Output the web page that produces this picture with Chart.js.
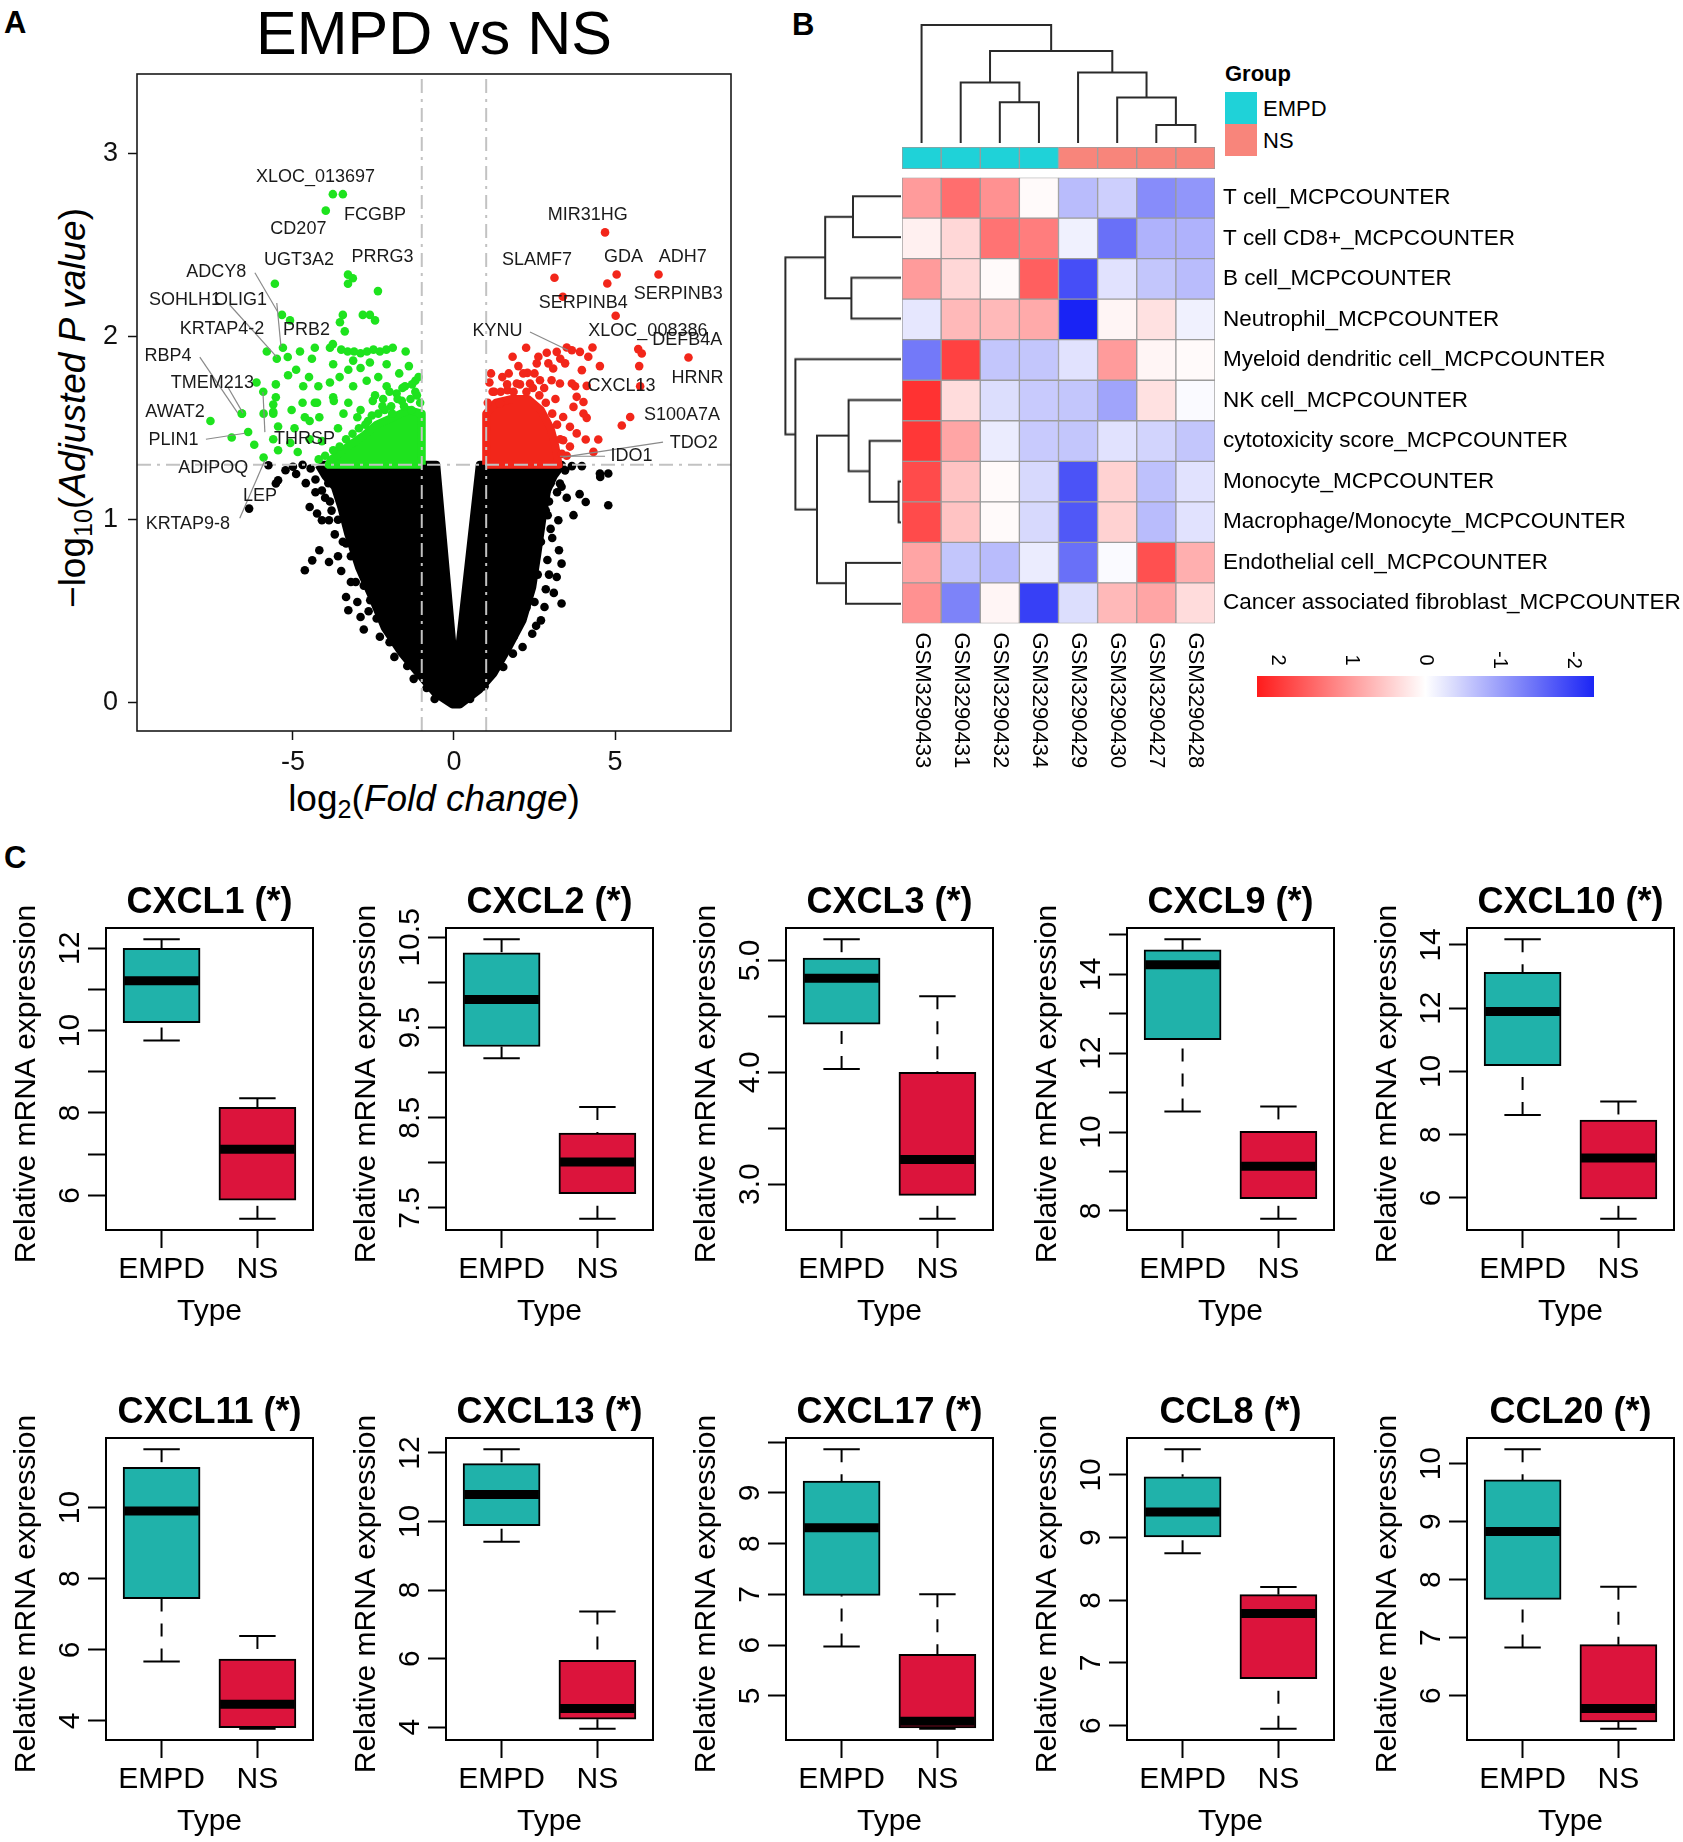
<!DOCTYPE html>
<html>
<head>
<meta charset="utf-8">
<title>EMPD vs NS</title>
<script src="https://cdn.jsdelivr.net/npm/chart.js@4.4.1/dist/chart.umd.min.js"></script>
<style>
  html, body { margin: 0; padding: 0; background: #fff; }
  #page { position: relative; width: 1683px; height: 1842px; overflow: hidden; background: #fff;
          font-family: "Liberation Sans", Arial, Helvetica, sans-serif; color: #000; }
  #page canvas { position: absolute; }
  .txt { position: absolute; white-space: nowrap; line-height: 1; }
  .txt sub { font-size: 0.68em; vertical-align: -0.28em; line-height: 0; }
  .swatch { position: absolute; width: 32px; height: 32px; }
</style>
</head>
<body>
<div id="page"></div>
<script>
// ---------------- A: volcano ----------------
const fcCut = 1;
const padjCut = 1.301;
const xMinA = -9.84, xMaxA = 8.6, yMinA = -0.155, yMaxA = 3.437;

// outline of the dense non-significant cloud (the V)
const blackCloud = [[-4.2,1.30],[-4.0,1.24],[-3.7,1.18],[-3.5,1.07],[-3.28,0.92],[-2.95,0.74],[-2.55,0.58],
  [-2.15,0.41],[-1.62,0.27],[-1.10,0.16],[-0.57,0.05],[-0.05,-0.01],[0.18,-0.01],[0.78,0.07],[1.23,0.16],
  [1.68,0.30],[2.13,0.45],[2.43,0.63],[2.59,0.815],[2.74,1.0],[2.89,1.16],[3.10,1.24],[3.35,1.30],
  [0.80,1.30],[0.05,0.12],[-0.55,1.30],[-4.2,1.30]];
const greenCloud = [[-1.0,1.30],[-1.0,1.58],[-1.4,1.60],[-1.9,1.56],[-2.4,1.52],[-2.8,1.46],[-3.3,1.40],
  [-3.8,1.33],[-3.9,1.30],[-1.0,1.30]];
const redCloud = [[1.0,1.30],[1.0,1.58],[1.3,1.64],[1.8,1.66],[2.3,1.66],[2.7,1.60],[3.0,1.50],[3.15,1.40],
  [3.25,1.30],[1.0,1.30]];

const blackPoints = [[3.66,1.293],[3.97,1.293],[4.53,1.253],[4.79,1.253],[2.88,1.161],[3.29,1.198],[4.09,1.097],
  [4.79,1.079],[2.91,1.025],[3.24,0.997],[3.71,1.025],[4.54,1.234],[3.34,1.18],[3.26,0.833],[3.34,0.760],
  [3.19,0.687],[3.34,0.542],[2.81,0.523],[2.43,0.377],[2.13,0.304],[1.83,0.268],[1.53,0.195],[3.1,1.28],
  [3.45,1.27],[2.95,1.10],[3.05,0.90],[2.9,0.78],[2.85,0.62],[2.7,0.45],[2.55,0.42],[3.0,0.95],[3.1,0.6],
  [2.95,0.70],[3.5,1.12],[3.9,1.14],
  [0.5,0.02],[0.95,0.09],[1.4,0.20],[1.85,0.36],[2.25,0.52],[2.5,0.55],[2.6,0.70],[2.7,0.88],[2.85,1.05],
  [3.0,1.20],[3.2,1.15],[2.55,0.98],
  [-5.76,1.298],[-5.46,1.216],[-5.53,1.198],[-5.23,1.271],[-6.36,1.061],[-4.48,1.070],[-4.25,1.034],
  [-4.10,0.997],[-3.88,0.997],[-4.63,0.724],[-4.18,0.833],[-3.88,0.769],[-4.40,0.778],[-3.35,0.870],
  [-3.35,0.578],[-3.28,0.505],[-2.90,0.468],[-2.60,0.560],[-2.07,0.487],[-1.62,0.396],[-1.32,0.249],
  [-5.0,1.29],[-4.9,1.25],[-4.6,1.20],[-4.3,1.15],[-4.0,1.12],[-3.9,1.20],[-3.7,0.92],[-3.6,0.80],
  [-3.2,0.66],[-3.0,0.55],[-4.45,1.28],[-4.7,1.30],[-3.8,1.05],[-3.5,0.72],[-2.8,0.40],
  [-4.3,1.22],[-4.1,1.16],[-3.85,1.10],[-3.6,1.00],[-3.45,0.88],[-3.2,0.80],[-3.05,0.66],[-2.8,0.64],
  [-2.65,0.50],[-2.4,0.46],[-2.3,0.36],[-2.0,0.33],[-1.85,0.25],[-1.45,0.20],[-1.25,0.13],[-0.85,0.08],
  [-0.6,0.02]];

const downPoints = [[-3.76,2.78],[-3.45,2.78],[-3.98,2.69],[-5.56,2.29],[-3.29,2.34],[-3.14,2.32],[-3.29,2.29],
  [-2.36,2.25],[-5.34,2.12],[-5.09,2.09],[-3.45,2.12],[-3.54,2.08],[-3.39,2.03],[-2.83,2.12],[-2.61,2.12],
  [-2.45,2.09],[-5.31,1.94],[-5.81,1.92],[-5.50,1.88],[-5.16,1.89],[-4.78,1.92],[-4.41,1.88],[-4.32,1.94],
  [-3.85,1.94],[-3.76,1.96],[-3.50,1.93],[-3.30,1.92],[-3.10,1.92],[-2.90,1.91],[-2.70,1.92],[-2.50,1.93],
  [-2.30,1.92],[-2.10,1.93],[-1.90,1.94],[-3.75,1.85],[-3.13,1.87],[-2.61,1.86],[-2.09,1.85],[-6.13,1.75],
  [-5.92,1.70],[-5.53,1.74],[-5.15,1.79],[-4.68,1.73],[-4.21,1.73],[-4.32,1.64],[-3.85,1.75],[-3.75,1.67],
  [-3.28,1.82],[-3.13,1.73],[-2.71,1.76],[-2.35,1.78],[-2.09,1.73],[-1.78,1.69],[-1.52,1.73],[-5.61,1.63],
  [-5.61,1.58],[-6.59,1.58],[-5.04,1.60],[-4.63,1.56],[-7.56,1.54],[-6.58,1.58],[-6.39,1.48],[-5.91,1.58],
  [-5.53,1.67],[-5.61,1.59],[-5.46,1.51],[-5.61,1.44],[-5.91,1.34],[-5.46,1.38],[-5.08,1.42],[-4.85,1.37],
  [-4.70,1.64],[-4.48,1.54],[-4.25,1.64],[-4.18,1.56],[-4.48,1.44],[-4.10,1.43],[-3.73,1.65],[-3.43,1.58],
  [-3.28,1.64],[-2.90,1.60],[-2.67,1.54],[-2.52,1.65],[-2.22,1.62],[-1.92,1.58],[-1.62,1.65],[-1.32,1.60],
  [-4.9,1.82],[-4.5,1.78],[-1.7,1.80],[-1.4,1.84],[-1.2,1.76],[-2.9,1.83],[-3.55,1.78],[-6.9,1.45],
  [-6.2,1.41],[-4.95,1.50],[-1.5,1.92],[-1.15,1.68],
  [-1.05,1.64],[-1.2,1.70],[-1.35,1.66],[-1.55,1.62],[-1.75,1.66],[-1.95,1.62],[-2.15,1.60],[-2.35,1.58],
  [-2.55,1.57],[-2.75,1.52],[-2.95,1.50],[-3.15,1.47],[-3.35,1.44],[-3.55,1.40],[-3.75,1.38],[-4.0,1.35],
  [-4.2,1.33],[-1.1,1.78],[-1.3,1.74],[-2.0,1.70],[-2.45,1.68],[-3.0,1.56],[-3.6,1.50],[-2.2,1.66],[-1.6,1.72]];

const upPoints = [[4.69,2.571],[3.12,2.323],[5.05,2.341],[4.76,2.292],[6.35,2.341],[3.38,2.219],[5.02,2.115],
  [4.30,1.942],[5.72,1.933],[5.83,1.909],[7.28,1.887],[4.53,1.840],[5.75,1.840],[5.78,1.730],[3.97,1.818],
  [4.12,1.732],[3.76,1.730],[4.02,1.644],[4.12,1.557],[5.47,1.562],[5.21,1.515],[4.09,1.439],[4.48,1.439],
  [4.33,1.371],[2.24,1.940],[1.82,1.891],[2.62,1.891],[2.88,1.913],[3.19,1.918],[3.50,1.942],[3.66,1.927],
  [3.91,1.918],[4.17,1.891],[2.28,1.803],[2.57,1.855],[2.93,1.855],[3.08,1.827],[3.45,1.855],[1.95,1.745],
  [2.36,1.745],[2.67,1.763],[3.03,1.763],[3.29,1.745],[3.66,1.745],[1.66,1.708],[1.43,1.636],[3.81,1.672],
  [3.71,1.617],[4.02,1.581],[3.39,1.562],[3.60,1.508],[3.81,1.472],[3.39,1.435],[1.2,1.70],[1.5,1.78],
  [2.0,1.84],[2.5,1.80],[3.3,1.88],[3.5,1.35],[3.6,1.40],[1.1,1.75],
  [1.05,1.64],[1.25,1.70],[1.45,1.70],[1.65,1.74],[1.85,1.70],[2.05,1.74],[2.25,1.70],[2.45,1.72],[2.65,1.68],
  [2.85,1.64],[3.05,1.58],[3.2,1.52],[3.3,1.44],[3.35,1.36],[1.15,1.80],[1.7,1.80],[2.15,1.80],[2.8,1.72],[3.15,1.66]];

const geneLabels = [['XLOC_013697',-4.30,2.875],['FCGBP',-2.45,2.666],['CD207',-4.83,2.589],['UGT3A2',-4.81,2.42],
  ['PRRG3',-2.22,2.438],['ADCY8',-7.38,2.356],['SOHLH1',-8.35,2.20],['OLIG1',-6.63,2.20],['KRTAP4-2',-7.20,2.042],
  ['PRB2',-4.58,2.037],['RBP4',-8.88,1.894],['TMEM213',-7.50,1.747],['AWAT2',-8.66,1.590],['PLIN1',-8.71,1.435],
  ['THRSP',-4.64,1.439],['ADIPOQ',-7.47,1.280],['LEP',-6.02,1.129],['KRTAP9-8',-8.26,0.975],
  ['MIR31HG',4.15,2.666],['SLAMF7',2.58,2.42],['GDA',5.26,2.438],['ADH7',7.10,2.438],['SERPINB3',6.96,2.234],
  ['SERPINB4',4.01,2.183],['KYNU',1.35,2.031],['XLOC_008386',6.02,2.031],['DEFB4A',7.24,1.982],['HRNR',7.56,1.776],
  ['CXCL13',5.20,1.732],['S100A7A',7.08,1.572],['TDO2',7.44,1.418],['IDO1',5.51,1.347]];
const leaderLines = [[-6.18,2.35,-5.47,2.136],[-5.50,2.185,-5.37,1.945],[-6.96,2.174,-5.50,1.889],
  [-7.89,1.889,-6.71,1.583],[-7.02,1.726,-6.55,1.583],[-5.93,1.698,-5.87,1.479],[-7.70,1.440,-6.49,1.473],
  [-6.65,1.008,-5.87,1.325],[2.36,2.026,3.54,1.927],[6.49,1.424,3.39,1.342],[4.69,1.347,3.29,1.347]];

// ---------------- B: heatmap ----------------
const sampleNames = ['GSM3290433','GSM3290431','GSM3290432','GSM3290434','GSM3290429','GSM3290430','GSM3290427','GSM3290428'];
const sampleGroups = ['EMPD','EMPD','EMPD','EMPD','NS','NS','NS','NS'];
const cellTypes = ['T cell_MCPCOUNTER','T cell CD8+_MCPCOUNTER','B cell_MCPCOUNTER','Neutrophil_MCPCOUNTER',
  'Myeloid dendritic cell_MCPCOUNTER','NK cell_MCPCOUNTER','cytotoxicity score_MCPCOUNTER','Monocyte_MCPCOUNTER',
  'Macrophage/Monocyte_MCPCOUNTER','Endothelial cell_MCPCOUNTER','Cancer associated fibroblast_MCPCOUNTER'];
const scores = [
  [1.0, 1.45, 1.1, 0.05, -0.7, -0.5, -1.2, -1.1],
  [0.15, 0.4, 1.4, 1.3, -0.15, -1.5, -0.8, -0.8],
  [1.0, 0.4, 0.05, 1.6, -1.85, -0.3, -0.6, -0.7],
  [-0.25, 0.7, 0.7, 0.85, -2.3, 0.1, 0.3, -0.15],
  [-1.4, 1.9, -0.6, -0.6, -0.3, 1.0, 0.1, 0.05],
  [2.05, 0.35, -0.35, -0.55, -0.6, -0.95, 0.3, -0.05],
  [2.0, 0.9, -0.2, -0.55, -0.6, -0.3, -0.45, -0.6],
  [1.8, 0.6, 0.05, -0.4, -1.8, 0.45, -0.65, -0.3],
  [1.8, 0.6, 0.05, -0.4, -1.75, 0.45, -0.7, -0.3],
  [0.9, -0.6, -0.7, -0.2, -1.5, -0.05, 1.75, 0.8],
  [1.1, -1.3, 0.1, -2.0, -0.35, 0.7, 0.9, 0.35]];
// hclust-style merges: negative = leaf (1-based), positive = earlier merge; third value = height
const colMerges = [[-3,-4,2.04],[-2,1,3.02],[-7,-8,0.9],[-6,3,2.27],[-5,4,3.52],[2,5,4.6],[-1,6,5.9]];
const rowMerges = [[-8,-9,0.12],[-1,-2,2.4],[-3,-4,2.48],[-7,1,1.57],[-10,-11,2.75],[-6,4,2.62],
  [2,3,3.79],[6,5,4.2],[-5,8,5.28],[7,9,5.78]];
const legendTicks = [2, 1, 0, -1, -2];

// ---------------- C: box plots ----------------
const genes = ['CXCL1','CXCL2','CXCL3','CXCL9','CXCL10','CXCL11','CXCL13','CXCL17','CCL8','CCL20'];
const groups = ['EMPD','NS'];
// [lower whisker, Q1, median, Q3, upper whisker]
const empdStats = [[9.76,10.19,11.21,12.0,12.22],[9.16,9.29,9.81,10.33,10.48],[4.03,4.43,4.84,5.02,5.19],
  [10.52,12.34,14.24,14.62,14.89],[8.62,10.18,11.89,13.13,14.18],[5.67,7.44,9.90,11.13,11.64],
  [9.41,9.88,10.79,11.69,12.11],[5.97,6.98,8.31,9.23,9.86],[8.75,9.01,9.41,9.97,10.41],[6.83,7.66,8.83,9.72,10.25]];
const nsStats = [[5.43,5.88,7.12,8.14,8.36],[7.38,7.66,8.01,8.33,8.62],[2.69,2.90,3.22,4.0,4.68],
  [7.80,8.31,9.13,10.02,10.65],[5.34,5.97,7.26,8.46,9.05],[3.78,3.81,4.47,5.74,6.39],
  [3.95,4.23,4.54,5.95,7.37],[4.35,4.37,4.50,5.82,7.0],[5.95,6.75,7.79,8.09,8.21],[5.43,5.55,5.78,6.88,7.88]];
const yTicks = [[6,7,8,9,10,11,12],[7.5,8,8.5,9,9.5,10,10.5],[3,3.5,4,4.5,5],[8,9,10,11,12,13,14,15],
  [6,8,10,12,14],[4,6,8,10],[4,6,8,10,12],[5,6,7,8,9,10],[6,7,8,9,10],[6,7,8,9,10]];
const yLabels = [['6','8','10','12'],['7.5','8.5','9.5','10.5'],['3.0','4.0','5.0'],['8','10','12','14'],
  ['6','8','10','12','14'],['4','6','8','10'],['4','6','8','10','12'],['5','6','7','8','9'],
  ['6','7','8','9','10'],['6','7','8','9','10']];

// ------------------------------------------------------------
const FONT = '"Liberation Sans", Arial, Helvetica, sans-serif';
const page = document.getElementById('page');
Chart.defaults.font.family = FONT;
Chart.defaults.color = '#000';

const groupColor = {EMPD: '#1fd2d8', NS: '#f8857b'};
const boxColor = {EMPD: '#20b2aa', NS: '#dc143c'};

function makeCanvas(left, top, w, h) {
  const c = document.createElement('canvas');
  c.width = w; c.height = h;
  c.style.left = left + 'px'; c.style.top = top + 'px';
  c.style.width = w + 'px'; c.style.height = h + 'px';
  page.appendChild(c);
  return c.getContext('2d');
}

function putText(html, x, base, size, opt) {
  opt = opt || {};
  const d = document.createElement('div');
  d.className = 'txt';
  d.innerHTML = html;
  d.style.fontSize = size + 'px';
  if (opt.bold) d.style.fontWeight = 'bold';
  d.style.left = x + 'px';
  d.style.top = (base - 0.85 * size) + 'px';
  if (opt.center) d.style.transform = 'translateX(-50%)';
  page.appendChild(d);
  return d;
}

const common = {
  responsive: false, animation: false, devicePixelRatio: 1, events: [],
  plugins: {legend: {display: false}, tooltip: {enabled: false}}
};
const toXY = arr => arr.map(([x, y]) => ({x, y}));

function heatColor(v) {
  const t = Math.min(Math.abs(v) / 2.3, 1);
  const end = v >= 0 ? [255, 25, 25] : [25, 35, 245];
  const c = end.map(e => Math.round(255 + (e - 255) * t));
  return 'rgb(' + c.join(',') + ')';
}

// ---------- panel A ----------
putText('A', 4, 33, 31, {bold: true});
putText('EMPD vs NS', 434, 55, 61, {center: true});
putText('log<sub>2</sub>(<i>Fold change</i>)', 434, 811, 37, {center: true});
const yTitle = putText('&minus;log<sub>10</sub>(<i>Adjusted P value</i>)', 0, 0, 37);
yTitle.style.left = '72px'; yTitle.style.top = '408px';
yTitle.style.transform = 'translate(-50%,-50%) rotate(-90deg)';

const cutLine = (pts) => ({type: 'line', data: toXY(pts), borderColor: '#c2c2c2', borderWidth: 2,
  borderDash: [14, 6, 3, 6], pointRadius: 0, fill: false});
const cloudSet = (pts, col) => ({type: 'line', data: toXY(pts), borderColor: col, backgroundColor: col,
  borderWidth: 8, borderJoinStyle: 'round', fill: 'shape', pointRadius: 0, tension: 0});
const dotSet = (pts, col) => ({type: 'scatter', data: toXY(pts), backgroundColor: col, borderWidth: 0,
  pointRadius: 4.3, pointBorderWidth: 0});

const volcanoDecor = {
  id: 'volcanoDecor',
  afterDatasetsDraw(chart) {
    const {ctx, chartArea: a, scales: {x, y}} = chart;
    ctx.save();
    ctx.strokeStyle = '#8a8a8a'; ctx.lineWidth = 1.2;
    leaderLines.forEach(([x0, y0, x1, y1]) => {
      ctx.beginPath();
      ctx.moveTo(x.getPixelForValue(x0), y.getPixelForValue(y0));
      ctx.lineTo(x.getPixelForValue(x1), y.getPixelForValue(y1));
      ctx.stroke();
    });
    ctx.fillStyle = '#1a1a1a'; ctx.font = '18px ' + FONT;
    ctx.textAlign = 'center'; ctx.textBaseline = 'middle';
    geneLabels.forEach(([t, gx, gy]) => ctx.fillText(t, x.getPixelForValue(gx), y.getPixelForValue(gy)));
    ctx.strokeStyle = '#1a1a1a'; ctx.lineWidth = 1.6;
    ctx.strokeRect(a.left, a.top, a.width, a.height);
    ctx.restore();
  }
};

new Chart(makeCanvas(0, 44, 770, 796), {
  type: 'scatter',
  data: {datasets: [
    cutLine([[-fcCut, yMinA], [-fcCut, yMaxA]]),
    cutLine([[fcCut, yMinA], [fcCut, yMaxA]]),
    cutLine([[xMinA, padjCut], [xMaxA, padjCut]]),
    dotSet(upPoints, '#f2261a'),
    cloudSet(redCloud, '#f2261a'),
    dotSet(downPoints, '#1ee31e'),
    cloudSet(greenCloud, '#1ee31e'),
    dotSet(blackPoints, '#000'),
    cloudSet(blackCloud, '#000')
  ]},
  options: Object.assign({}, common, {
    layout: {padding: {top: 30, right: 39}, autoPadding: false},
    scales: {
      x: {type: 'linear', min: xMinA, max: xMaxA,
        afterBuildTicks: s => { s.ticks = [-5, 0, 5].map(v => ({value: v})); },
        ticks: {font: {size: 27}, color: '#111', padding: 6},
        grid: {drawOnChartArea: false, tickLength: 9, tickWidth: 1.5, tickColor: '#111'},
        border: {display: false},
        afterFit: s => { s.height = 109; }},
      y: {type: 'linear', min: yMinA, max: yMaxA,
        afterBuildTicks: s => { s.ticks = [0, 1, 2, 3].map(v => ({value: v})); },
        ticks: {font: {size: 27}, color: '#111', padding: 10},
        grid: {drawOnChartArea: false, tickLength: 9, tickWidth: 1.5, tickColor: '#111'},
        border: {display: false},
        afterFit: s => { s.width = 137; }}
    }
  }),
  plugins: [volcanoDecor]
});

// ---------- panel B ----------
putText('B', 792, 35, 31, {bold: true});
putText('Group', 1225, 82, 22, {bold: true});
[['EMPD', 92], ['NS', 124]].forEach(([g, top]) => {
  const s = document.createElement('div');
  s.className = 'swatch';
  s.style.left = '1225px'; s.style.top = top + 'px'; s.style.background = groupColor[g];
  page.appendChild(s);
  putText(g, 1263, top + 24.5, 22);
});

function dendroSegments(merges) {
  const pos = [], ht = [];
  const nodePos = id => id < 0 ? (-id - 1) + 0.5 : pos[id - 1];
  const nodeHt = id => id < 0 ? 0 : ht[id - 1];
  return merges.map(([a, b, h], m) => {
    const pa = nodePos(a), pb = nodePos(b);
    const seg = [[pa, nodeHt(a)], [pa, h], [pb, h], [pb, nodeHt(b)]];
    pos[m] = (pa + pb) / 2; ht[m] = h;
    return seg;
  });
}
const treeLine = pts => ({data: pts, showLine: true, borderColor: '#2a2a2a', borderWidth: 2,
  pointRadius: 0, fill: false, clip: false});

// column dendrogram (height on y)
new Chart(makeCanvas(902, 15, 313, 128), {
  type: 'scatter',
  data: {datasets: dendroSegments(colMerges).map(seg => treeLine(seg.map(([p, h]) => ({x: p, y: h}))))},
  options: Object.assign({}, common, {
    layout: {padding: 0, autoPadding: false},
    scales: {x: {type: 'linear', min: 0, max: 8, display: false},
             y: {type: 'linear', min: 0, max: 6.4, display: false}}
  })
});

// row dendrogram (height on x, leaves at the right)
new Chart(makeCanvas(780, 176, 121, 447.5), {
  type: 'scatter',
  data: {datasets: dendroSegments(rowMerges).map(seg => treeLine(seg.map(([p, h]) => ({x: h, y: p}))))},
  options: Object.assign({}, common, {
    layout: {padding: 0, autoPadding: false},
    scales: {x: {type: 'linear', min: 0, max: 6.05, reverse: true, display: false},
             y: {type: 'linear', min: 0, max: 11, reverse: true, display: false}}
  })
});

// group annotation strip
new Chart(makeCanvas(902, 147, 313, 22), {
  type: 'bar',
  data: {labels: [''], datasets: sampleNames.map((n, j) => ({
    label: n, data: [[j, j + 1]], backgroundColor: groupColor[sampleGroups[j]],
    borderColor: '#9b9b9b', borderWidth: 1, borderSkipped: false,
    categoryPercentage: 1, barPercentage: 1, grouped: false}))},
  options: Object.assign({}, common, {
    indexAxis: 'y',
    layout: {padding: 0, autoPadding: false},
    scales: {x: {type: 'linear', min: 0, max: 8, display: false}, y: {display: false}}
  })
});

// heatmap cells
const colLabels = {
  id: 'colLabels',
  afterDraw(chart) {
    const {ctx, chartArea: a, scales: {x}} = chart;
    ctx.save();
    ctx.fillStyle = '#000'; ctx.font = '22px ' + FONT;
    ctx.textAlign = 'left'; ctx.textBaseline = 'middle';
    sampleNames.forEach((n, j) => {
      ctx.save();
      ctx.translate(x.getPixelForValue(j + 0.5), a.bottom + 9);
      ctx.rotate(Math.PI / 2);
      ctx.fillText(n, 0, 0);
      ctx.restore();
    });
    ctx.restore();
  }
};
new Chart(makeCanvas(902, 156, 781, 624), {
  type: 'bar',
  data: {labels: cellTypes, datasets: sampleNames.map((n, j) => ({
    label: n, data: cellTypes.map(() => [j, j + 1]), backgroundColor: scores.map(r => heatColor(r[j])),
    borderColor: '#9b9b9b', borderWidth: 1, borderSkipped: false,
    categoryPercentage: 1, barPercentage: 1, grouped: false}))},
  options: Object.assign({}, common, {
    indexAxis: 'y',
    layout: {padding: {top: 20, bottom: 156.5, left: 0, right: 0}, autoPadding: false},
    scales: {
      x: {type: 'linear', min: 0, max: 8, display: false},
      y: {position: 'right', ticks: {font: {size: 22.5}, color: '#000', padding: 8, autoSkip: false},
          grid: {display: false, drawTicks: false}, border: {display: false},
          afterFit: s => { s.width = 468; }}
    }
  }),
  plugins: [colLabels]
});

// colour key
const colourKey = {
  id: 'colourKey',
  afterDraw(chart) {
    const {ctx, chartArea: a, scales: {x}} = chart;
    const x0 = x.getPixelForValue(2.28), x1 = x.getPixelForValue(-2.28);
    const grad = ctx.createLinearGradient(x0, 0, x1, 0);
    for (let i = 0; i <= 24; i++) grad.addColorStop(i / 24, heatColor(2.28 - i * 4.56 / 24));
    ctx.save();
    ctx.fillStyle = grad;
    ctx.fillRect(x0, a.top, x1 - x0, a.height);
    ctx.fillStyle = '#000'; ctx.font = '20px ' + FONT;
    ctx.textAlign = 'center'; ctx.textBaseline = 'middle';
    legendTicks.forEach(v => {
      ctx.save();
      ctx.translate(x.getPixelForValue(v), a.top - 16);
      ctx.rotate(Math.PI / 2);
      ctx.fillText(String(v), 0, 0);
      ctx.restore();
    });
    ctx.restore();
  }
};
new Chart(makeCanvas(1257, 640, 337, 60), {
  type: 'scatter',
  data: {datasets: []},
  options: Object.assign({}, common, {
    layout: {padding: {top: 36, bottom: 3, left: 0, right: 0}, autoPadding: false},
    scales: {x: {type: 'linear', min: -2.28, max: 2.28, reverse: true, display: false},
             y: {type: 'linear', min: 0, max: 1, display: false}}
  }),
  plugins: [colourKey]
});

// ---------- panel C ----------
putText('C', 4, 868, 31, {bold: true});
const boxLefts = [106, 446, 786, 1127, 1467];
const boxTops = [928, 1438];

function boxDecor(k) {
  return {
    id: 'boxDecor' + k,
    afterDatasetsDraw(chart) {
      const {ctx, chartArea: a, scales: {x, y}} = chart;
      const st = [empdStats[k], nsStats[k]];
      const seg = (x0, y0, x1, y1) => { ctx.beginPath(); ctx.moveTo(x0, y0); ctx.lineTo(x1, y1); ctx.stroke(); };
      ctx.save();
      ctx.strokeStyle = '#000';
      st.forEach((s, i) => {
        const cx = x.getPixelForValue(i + 1);
        const cap = x.getPixelForValue(i + 1.19) - cx;
        const half = x.getPixelForValue(i + 1.4) - cx;
        ctx.lineWidth = 2;
        ctx.setLineDash([13, 12]);
        seg(cx, y.getPixelForValue(s[4]), cx, y.getPixelForValue(s[3]));
        seg(cx, y.getPixelForValue(s[0]), cx, y.getPixelForValue(s[1]));
        ctx.setLineDash([]);
        seg(cx - cap, y.getPixelForValue(s[4]), cx + cap, y.getPixelForValue(s[4]));
        seg(cx - cap, y.getPixelForValue(s[0]), cx + cap, y.getPixelForValue(s[0]));
        ctx.lineWidth = 9;
        seg(cx - half + 1, y.getPixelForValue(s[2]), cx + half - 1, y.getPixelForValue(s[2]));
      });
      ctx.lineWidth = 2;
      ctx.strokeRect(a.left, a.top, a.width, a.height);

      ctx.fillStyle = '#000';
      ctx.textAlign = 'center'; ctx.textBaseline = 'alphabetic';
      ctx.font = 'bold 36px ' + FONT;
      ctx.fillText(genes[k] + ' (*)', (a.left + a.right) / 2, a.top - 15);
      ctx.font = '30px ' + FONT;
      groups.forEach((g, i) => ctx.fillText(g, x.getPixelForValue(i + 1), a.bottom + 48));
      ctx.fillText('Type', (a.left + a.right) / 2, a.bottom + 90);
      yLabels[k].forEach(lbl => {
        ctx.save();
        ctx.translate(a.left - 27, y.getPixelForValue(parseFloat(lbl)));
        ctx.rotate(-Math.PI / 2);
        ctx.fillText(lbl, 0, 0);
        ctx.restore();
      });
      ctx.save();
      ctx.translate(a.left - 71, (a.top + a.bottom) / 2 + 5);
      ctx.rotate(-Math.PI / 2);
      ctx.fillText('Relative mRNA expression', 0, 0);
      ctx.restore();
      ctx.restore();
    }
  };
}

genes.forEach((g, k) => {
  const left = boxLefts[k % 5], top = boxTops[Math.floor(k / 5)];
  const st = [empdStats[k], nsStats[k]];
  const lo = Math.min(st[0][0], st[1][0]), hi = Math.max(st[0][4], st[1][4]);
  const pad = (hi - lo) * 0.04;
  new Chart(makeCanvas(left - 105, top - 62, 326, 470), {
    type: 'bar',
    data: {datasets: [{
      label: g,
      data: st.map((s, i) => ({x: i + 1, y: [s[1], s[3]]})),
      backgroundColor: groups.map(gr => boxColor[gr]),
      borderColor: '#000', borderWidth: 2, borderSkipped: false, barThickness: 77
    }]},
    options: Object.assign({}, common, {
      layout: {padding: {top: 62, right: 14, left: 0, bottom: 0}, autoPadding: false},
      scales: {
        x: {type: 'linear', min: 0.42, max: 2.58, offset: false, bounds: 'data',
            afterBuildTicks: s => { s.ticks = [{value: 1}, {value: 2}]; },
            ticks: {display: false},
            grid: {offset: false, drawOnChartArea: false, drawTicks: true, tickLength: 18, tickWidth: 2, tickColor: '#000'},
            border: {display: false},
            afterFit: s => { s.height = 106; }},
        y: {type: 'linear', min: lo - pad, max: hi + pad, beginAtZero: false, bounds: 'data',
            afterBuildTicks: s => { s.ticks = yTicks[k].map(v => ({value: v})); },
            ticks: {display: false},
            grid: {drawOnChartArea: false, drawTicks: true, tickLength: 18, tickWidth: 2, tickColor: '#000'},
            border: {display: false},
            afterFit: s => { s.width = 105; }}
      }
    }),
    plugins: [boxDecor(k)]
  });
});
</script>
</body>
</html>
